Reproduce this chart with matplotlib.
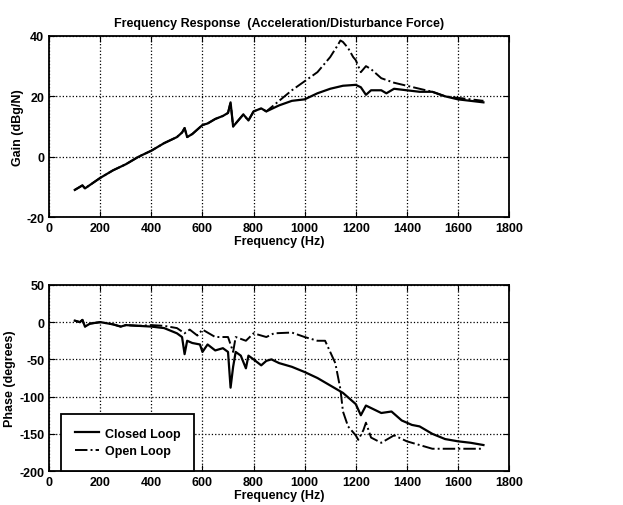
import numpy as np
import matplotlib.pyplot as plt

plt.rcParams["font.family"] = ["Liberation Sans", "DejaVu Sans"]
plt.rcParams["font.weight"] = "bold"
plt.rcParams["axes.titleweight"] = "bold"
plt.rcParams["axes.labelweight"] = "bold"
plt.rcParams["axes.unicode_minus"] = False

# gain traces (dBg/N)
freq_gain = [100, 130, 140, 200, 250, 300, 350, 400, 450, 500, 520, 530, 540, 560,
             600, 620, 650, 680, 700, 710, 720, 740, 760, 780, 800, 830, 850,
             900, 950, 1000, 1050, 1100, 1150, 1200, 1220, 1240, 1260, 1300, 1320,
             1350, 1400, 1450, 1500, 1550, 1600, 1650, 1700]
gain_closed = [-11, -9.5, -10.5, -7, -4.5, -2.5, 0, 2, 4.5, 6.5, 8, 9.5, 6.5, 7.5,
               10.5, 11, 12.5, 13.5, 14.5, 18, 10, 12, 14, 12, 15, 16, 15,
               17, 18.5, 19, 21, 22.5, 23.5, 23.8, 23, 20.5, 22, 22, 21,
               22.5, 22, 21.5, 21.5, 20, 19, 18.5, 18]

freq_gain_ol = [850, 900, 950, 1000, 1050, 1100, 1130, 1140, 1150, 1170, 1190, 1200,
                1220, 1240, 1260, 1300, 1350, 1400, 1450, 1500, 1550, 1600, 1650, 1700]
gain_open_hi = [15, 18.5, 22, 25, 28, 33, 37, 38.5, 38, 36, 33, 32,
                28, 30, 29, 26, 24.5, 23.5, 22.5, 21.5, 20, 19.5, 19, 18.5]

# phase traces (degrees)
freq_phase = [100, 120, 130, 140, 160, 200, 250, 280, 300, 350, 400, 450, 500, 520,
              530, 540, 560, 590, 600, 620, 650, 680, 700, 710, 720, 730, 750, 770,
              780, 800, 830, 850, 870, 900, 950, 1000, 1050, 1100, 1150, 1200, 1220,
              1240, 1300, 1340, 1380, 1420, 1450, 1500, 1550, 1600, 1650, 1700]
phase_closed = [2, 0, 3, -6, -2, 0, -3, -6, -4, -5, -6, -8, -15, -20,
                -43, -25, -28, -30, -40, -30, -38, -35, -40, -88, -60, -40, -45, -62,
                -45, -50, -58, -52, -50, -55, -60, -67, -75, -85, -95, -110, -125,
                -112, -122, -120, -132, -138, -140, -150, -157, -160, -162, -165]

freq_phase_ol = [100, 120, 130, 140, 160, 200, 250, 280, 300, 350, 400, 450, 500, 530,
                 550, 580, 600, 650, 700, 720, 730, 770, 800, 850, 880, 950, 1000,
                 1050, 1080, 1100, 1120, 1140, 1150, 1170, 1200, 1210, 1230, 1240,
                 1260, 1300, 1350, 1400, 1450, 1500, 1600, 1700]
phase_open = [2, 0, 3, -6, -2, 0, -3, -6, -4, -5, -4, -5, -8, -15,
              -10, -18, -10, -20, -20, -40, -20, -25, -15, -20, -15, -14, -20,
              -25, -25, -40, -55, -90, -120, -140, -152, -158, -145, -135,
              -155, -162, -152, -160, -165, -170, -170, -170]


def style_axes(ax, ylim, yticks, ylabel):
    ax.set_xlim(0, 1800)
    ax.set_ylim(*ylim)
    ax.set_xticks(np.arange(0, 1801, 200))
    ax.set_yticks(yticks)
    ax.grid(True, color="black", linestyle=":", linewidth=0.9)
    ax.tick_params(direction="in", top=True, right=True, labelsize=9, length=4)
    ax.set_xlabel("Frequency (Hz)", fontsize=9, labelpad=1)
    ax.set_ylabel(ylabel, fontsize=9, labelpad=2)
    for s in ax.spines.values():
        s.set_linewidth(1.3)


fig = plt.figure(figsize=(6.23, 5.06), dpi=100)
ax1 = fig.add_axes([0.079, 0.569, 0.738, 0.358])
ax2 = fig.add_axes([0.079, 0.067, 0.738, 0.368])

# closed loop up to 850 Hz is shared by both curves
ol_f = [f for f in freq_gain if f < 850] + freq_gain_ol
ol_g = [g for f, g in zip(freq_gain, gain_closed) if f < 850] + gain_open_hi
ax1.plot(ol_f, ol_g, color="black", linestyle="-.", linewidth=1.4)
ax1.plot(freq_gain, gain_closed, color="black", linewidth=1.6)
style_axes(ax1, (-20, 40), [-20, 0, 20, 40], "Gain (dBg/N)")
ax1.set_title("Frequency Response  (Acceleration/Disturbance Force)", fontsize=9, pad=7)

ax2.plot(freq_phase, phase_closed, color="black", linewidth=1.6, label="Closed Loop")
ax2.plot(freq_phase_ol, phase_open, color="black", linestyle="-.", linewidth=1.4,
         label="Open Loop")
style_axes(ax2, (-200, 50), [-200, -150, -100, -50, 0, 50], "Phase (degrees)")
leg = ax2.legend(loc="lower left", bbox_to_anchor=(0.026, 0.0), borderaxespad=0,
                 fontsize=9, fancybox=False, framealpha=1, edgecolor="black",
                 borderpad=1.1, labelspacing=0.45, handlelength=1.9, handletextpad=0.5)
leg.get_frame().set_linewidth(1.3)

fig.savefig("out.png", dpi=100)
